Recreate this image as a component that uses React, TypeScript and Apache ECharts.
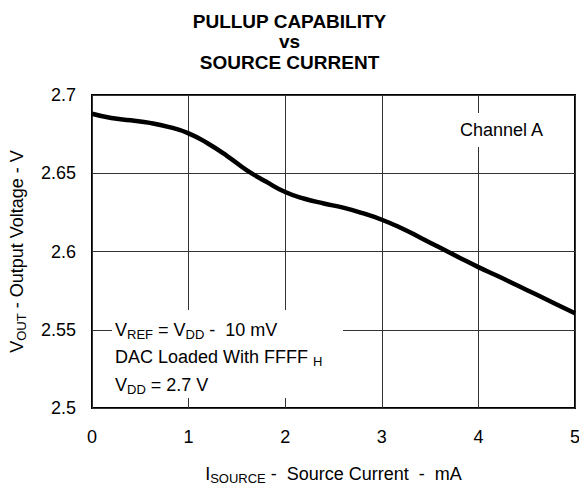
import React, { useEffect, useRef } from "react";
import * as echarts from "echarts";

const currentMA = [0, 0.2, 0.4, 0.6, 0.8, 1.0, 1.2, 1.4, 1.6, 1.8, 2.0, 2.2, 2.4, 2.6, 2.8, 3.0, 3.2, 3.4, 3.6, 3.8, 4.0, 4.2, 4.4, 4.6, 4.8, 5.0];
const voutV = [2.688, 2.6853, 2.6838, 2.6822, 2.6795, 2.6755, 2.669, 2.661, 2.652, 2.6447, 2.638, 2.6337, 2.6307, 2.628, 2.6245, 2.6203, 2.615, 2.6088, 2.6025, 2.5962, 2.59, 2.5843, 2.5784, 2.5725, 2.5665, 2.5605];
const titleLines = ["PULLUP CAPABILITY", "vs", "SOURCE CURRENT"];

const FONT = "Liberation Sans, Arial, sans-serif";

export default function App() {
  const ref = useRef<HTMLDivElement>(null);
  useEffect(() => {
    if (!ref.current) return;
    const chart = echarts.init(ref.current, null, { renderer: "svg" });
    const sub = { fontSize: 13, fontFamily: FONT, color: "#000", verticalAlign: "bottom", lineHeight: 13 };
    const nrm = { fontSize: 18, fontFamily: FONT, color: "#000", lineHeight: 22 };
    chart.setOption({
      animation: false,
      backgroundColor: "#fff",
      title: {
        text: titleLines.join("\n"),
        left: "center",
        top: 6,
        textStyle: { fontFamily: FONT, fontWeight: "bold", fontSize: 19, lineHeight: 20.5, color: "#000" },
      },
      grid: {
        left: 92,
        top: 95,
        right: 4,
        bottom: 79,
        show: true,
        borderColor: "#000",
        borderWidth: 2,
        backgroundColor: "transparent",
        containLabel: false,
        outerBoundsMode: "none",
      },
      xAxis: {
        type: "value",
        min: 0,
        max: 5,
        interval: 1,
        axisLine: { show: false },
        axisTick: { show: false },
        splitLine: { show: true, lineStyle: { color: "#333", width: 1 } },
        axisLabel: { fontFamily: FONT, fontSize: 18, color: "#000", margin: 20 },
        name: "{n|I}{s|SOURCE}{n| -  Source Current  -  mA}",
        nameLocation: "middle",
        nameGap: 55,
        nameTextStyle: { rich: { n: nrm, s: sub } },
      },
      yAxis: {
        type: "value",
        min: 2.5,
        max: 2.7,
        interval: 0.05,
        axisLine: { show: false },
        axisTick: { show: false },
        splitLine: { show: true, lineStyle: { color: "#333", width: 1 } },
        axisLabel: { fontFamily: FONT, fontSize: 18, color: "#000", margin: 16 },
        name: "{n|V}{s|OUT}{n| - Output Voltage - V}",
        nameLocation: "middle",
        nameGap: 64,
        nameRotate: 90,
        nameTextStyle: { rich: { n: nrm, s: sub } },
      },
      series: [
        {
          type: "line",
          data: currentMA.map((x, i) => [x, voutV[i]]),
          smooth: true,
          showSymbol: false,
          lineStyle: { color: "#000", width: 4.5 },
          z: 5,
        },
      ],
      graphic: [
        {
          type: "text",
          x: 456,
          y: 130,
          z: 10,
          style: {
            text: "Channel A",
            font: "18px " + FONT,
            fill: "#000",
            verticalAlign: "middle",
            backgroundColor: "#fff",
            padding: [8, 4, 8, 4],
          },
        },
        { type: "rect", shape: { x: 112, y: 310, width: 231, height: 88 }, style: { fill: "#fff" }, z: 10 },
        {
          type: "text",
          x: 115,
          y: 330,
          z: 11,
          style: {
            text: "{n|V}{s|REF}{n| = V}{s|DD}{n| -  10 mV}",
            verticalAlign: "middle",
            rich: { n: nrm, s: sub },
          },
        },
        {
          type: "text",
          x: 115,
          y: 357,
          z: 11,
          style: {
            text: "{n|DAC Loaded With FFFF }{s|H}",
            verticalAlign: "middle",
            rich: { n: nrm, s: sub },
          },
        },
        {
          type: "text",
          x: 115,
          y: 385,
          z: 11,
          style: {
            text: "{n|V}{s|DD}{n| = 2.7 V}",
            verticalAlign: "middle",
            rich: { n: nrm, s: sub },
          },
        },
      ],
    });
    return () => chart.dispose();
  }, []);
  return <div ref={ref} style={{ width: 579, height: 487, position: "absolute", left: 0, top: 0 }} />;
}
